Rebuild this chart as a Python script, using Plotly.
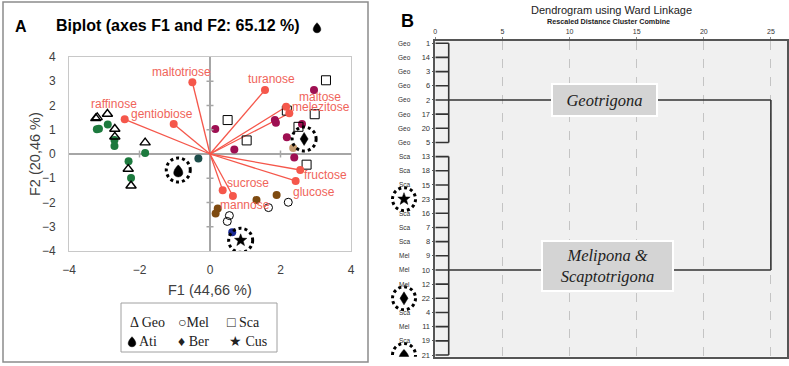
import math
import plotly.graph_objects as go

W, H = 789, 366

# ---------------- Panel A : biplot data ----------------
vec_names = ["maltotriose", "turanose", "raffinose", "gentiobiose", "maltose",
             "melezitose", "fructose", "glucose", "sucrose", "mannose"]
vec_f1 = [-0.50, 1.56, -2.42, -1.03, 2.16, 2.25, 2.56, 2.43, 0.36, 0.65]
vec_f2 = [2.96, 2.64, 1.43, 1.24, 1.95, 1.68, -0.66, -1.11, -1.50, -1.73]

geo_open_f1 = [-3.24, -3.20, -2.91, -2.70, -2.70, -1.84, -2.32, -2.24]
geo_open_f2 = [1.47, 1.51, 1.65, 1.03, 0.71, 0.47, -0.62, -1.31]
geo_f1 = [-3.21, -3.15, -2.90, -2.71, -2.71, -1.84, -2.31, -2.24]
geo_f2 = [1.02, 1.04, 1.22, 0.58, 0.33, 0.04, -0.30, -0.99]

sca_open_f1 = [3.29, 2.18, 2.97, 0.50, 1.04, 2.51, 2.74]
sca_open_f2 = [3.04, 1.79, 1.64, 1.40, 0.56, 1.12, -0.44]
sca_f1 = [0.15, 0.69, 1.84, 1.87, 2.95, 2.61, 2.18, 2.39]
sca_f2 = [1.03, 0.19, 1.40, 1.29, 2.64, 1.24, 0.69, -0.14]

mel_open_f1 = [2.22, 1.66, 0.55, 0.49]
mel_open_f2 = [-1.99, -2.21, -2.54, -2.78]
mel_f1 = [1.32, 1.89, 0.22, 0.16]
mel_f2 = [-1.90, -1.69, -2.25, -2.45]

ati_f1, ati_f2 = [-0.33], [-0.19]
ber_f1, ber_f2 = [2.36], [0.25]
cus_f1, cus_f2 = [0.63], [-3.23]

# highlighted (encircled) samples
ati_mark = (-0.90, -0.66)
ber_mark = (2.67, 0.62)
cus_mark = (0.87, -3.56)

x_ticks = [-4, -2, 0, 2, 4]
y_ticks = [-4, -3, -2, -1, 0, 1, 2, 3, 4]

# ---------------- Panel B : dendrogram data ----------------
leaf_ids = [1, 14, 3, 6, 2, 17, 20, 5, 13, 18, 15, 23, 16, 7, 8, 9, 10, 12, 22, 4, 11, 19, 21]
leaf_groups = ["Geo"] * 8 + ["Sca", "Sca", "Sca", "Cus", "Sca", "Sca", "Sca", "Mel", "Mel",
                             "Mel", "Ber", "Sca", "Mel", "Sca", "Ati"]
cluster_first = [0, 8]
cluster_last = [7, 22]
cluster_join = [4, 16]
cluster_height = [1.0, 1.0]
root_height = 25.0
dist_ticks = [0, 5, 10, 15, 20, 25]

# ---------------- styles ----------------
RED = "#f5574b"
RED_TXT = "#f0645a"
SANS = "Liberation Sans"
SERIF = "Liberation Serif"


def px(v):
    return v / W


def py(v):
    return 1 - v / H


def drop_path(h):
    pts = []
    for k in range(0, 37):
        t = math.radians(k * 10)
        pts.append((0.98 * h * math.sin(t) * math.sin(t / 2), h * math.cos(t) - 0.15 * h))
    return "M" + " L".join(f"{a:.2f},{b:.2f}" for a, b in pts) + " Z"


def star_path(R):
    pts = []
    for k in range(10):
        r = R if k % 2 == 0 else 0.42 * R
        a = math.radians(90 + 36 * k)
        pts.append((r * math.cos(a), r * math.sin(a)))
    return "M" + " L".join(f"{a:.2f},{b:.2f}" for a, b in pts) + " Z"


def diamond_path(hw, hh):
    return f"M0,{hh} L{hw},0 L0,{-hh} L{-hw},0 Z"


fig = go.Figure()

# vectors
lx, ly = [], []
for a, b in zip(vec_f1, vec_f2):
    lx += [0, a, None]
    ly += [0, b, None]
fig.add_trace(go.Scatter(x=lx, y=ly, mode="lines", line=dict(color=RED, width=1.3),
                         hoverinfo="skip", xaxis="x", yaxis="y"))

def pts(x, y, **m):
    fig.add_trace(go.Scatter(x=x, y=y, mode="markers", marker=m, xaxis="x", yaxis="y",
                             hoverinfo="skip"))

pts(geo_f1, geo_f2, color="#1d7a3e", size=8)
pts(geo_open_f1, geo_open_f2, symbol="triangle-up-open", size=9, color="black", line=dict(width=1.4))
pts(sca_f1, sca_f2, color="#9e0f52", size=8)
pts(sca_open_f1, sca_open_f2, symbol="square-open", size=9, color="black", line=dict(width=1))
pts(mel_f1, mel_f2, color="#7e4a10", size=8)
pts(mel_open_f1, mel_open_f2, symbol="circle-open", size=8, color="black", line=dict(width=1))
pts(ati_f1, ati_f2, color="#1d4e4b", size=8)
pts(ber_f1, ber_f2, color="#c59c70", size=8)
pts(cus_f1, cus_f2, color="#1b2a94", size=8)
pts(vec_f1, vec_f2, color=RED, size=8)

# dendrogram lines
dx, dy = [], []
for c in range(len(cluster_first)):
    h = cluster_height[c]
    for i in range(cluster_first[c], cluster_last[c] + 1):
        dx += [0, h, None]
        dy += [i, i, None]
    dx += [h, h, None]
    dy += [cluster_first[c], cluster_last[c], None]
    dx += [h, root_height, None]
    dy += [cluster_join[c], cluster_join[c], None]
dx += [root_height, root_height, None]
dy += [cluster_join[0], cluster_join[-1], None]
fig.add_trace(go.Scatter(x=dx, y=dy, mode="lines", line=dict(color="#333333", width=1.6),
                         hoverinfo="skip", xaxis="x2", yaxis="y2"))

shapes = []
annotations = []

# panel A frame
shapes.append(dict(type="rect", xref="paper", yref="paper", x0=px(3), x1=px(368), y0=py(362), y1=py(2),
                   line=dict(color="#8c8c8c", width=1.5)))
# legend box
shapes.append(dict(type="rect", xref="paper", yref="paper", x0=px(121), x1=px(277), y0=py(352), y1=py(303),
                   line=dict(color="#a0a0a0", width=1), fillcolor="white"))

# ticks on the zero axes
for t in y_ticks:
    if t not in (0, y_ticks[0], y_ticks[-1]):
        shapes.append(dict(type="line", xref="x", yref="y", xsizemode="pixel", xanchor=0,
                           x0=-3.5, x1=3.5, y0=t, y1=t, line=dict(color="#a6a6a6", width=1.5)))
for t in x_ticks:
    if t not in (0, x_ticks[0], x_ticks[-1]):
        shapes.append(dict(type="line", xref="x", yref="y", ysizemode="pixel", yanchor=0,
                           y0=-3.5, y1=3.5, x0=t, x1=t, line=dict(color="#a6a6a6", width=1.5)))

# encircled glyphs, panel A
def circle_at(xref, yref, xa, ya, r=12):
    shapes.append(dict(type="circle", xref=xref, yref=yref, xsizemode="pixel", ysizemode="pixel",
                       xanchor=xa, yanchor=ya, x0=-r, x1=r, y0=-r, y1=r,
                       line=dict(color="black", width=3, dash="dot")))

def glyph_at(xref, yref, xa, ya, path):
    shapes.append(dict(type="path", xref=xref, yref=yref, xsizemode="pixel", ysizemode="pixel",
                       xanchor=xa, yanchor=ya, path=path, fillcolor="black",
                       line=dict(color="black", width=0.5)))

circle_at("x", "y", ati_mark[0], ati_mark[1])
glyph_at("x", "y", ati_mark[0], ati_mark[1], drop_path(6))
circle_at("x", "y", ber_mark[0], ber_mark[1])
glyph_at("x", "y", ber_mark[0], ber_mark[1], diamond_path(4, 6.5))
circle_at("x", "y", cus_mark[0], cus_mark[1])
glyph_at("x", "y", cus_mark[0], cus_mark[1], star_path(6.5))

# title drop & legend drop
glyph_at("paper", "paper", px(317), py(27), drop_path(5))
glyph_at("paper", "paper", px(132), py(341), drop_path(5))

# panel B background
shapes.append(dict(type="rect", xref="x2 domain", yref="y2 domain", x0=0, x1=1, y0=0, y1=1,
                   fillcolor="#f0f0f0", line=dict(width=0), layer="below"))

# panel B row labels and glyphs
glyph_paths = {"Cus": star_path(6.5), "Ber": diamond_path(4, 6.5), "Ati": drop_path(6.5)}
for i, g in enumerate(leaf_groups):
    if g in glyph_paths:
        circle_at("paper", "y2", px(404), i, r=11.5)
        glyph_at("paper", "y2", px(404), i, glyph_paths[g])
    else:
        annotations.append(dict(x=px(405), y=i, xref="paper", yref="y2", text=g, showarrow=False,
                                xanchor="center", yanchor="middle",
                                font=dict(family=SANS, size=6.5, color="#333333")))

# vector labels
label_shift = [(-11, 10), (7, 11), (-11, 15), (-12, 10), (34, 10), (32, 6), (25, -5), (18, -11),
               (25, 7), (12, -9)]
for n, a, b, (sx, sy) in zip(vec_names, vec_f1, vec_f2, label_shift):
    annotations.append(dict(x=a, y=b, xref="x", yref="y", text=n, showarrow=False, xshift=sx, yshift=sy,
                            xanchor="center", yanchor="middle",
                            font=dict(family=SANS, size=12, color=RED_TXT)))

# texts
def ptext(x, y, text, size, color="black", family=SANS, xanchor="center", **kw):
    d = dict(x=px(x), y=py(y), xref="paper", yref="paper", text=text, showarrow=False,
             xanchor=xanchor, yanchor="middle", font=dict(family=family, size=size, color=color))
    d.update(kw)
    annotations.append(d)

ptext(21, 27, "<b>A</b>", 16)
ptext(54, 26, "<b>Biplot (axes F1 and F2: 65.12 %)</b>", 16, xanchor="left")
ptext(210, 290, "F1 (44,66 %)", 14.5, "#404040")
ptext(35, 154, "F2 (20,46 %)", 14.5, "#404040", textangle=-90)
ptext(407, 21, "<b>B</b>", 18)
ptext(611, 10, "Dendrogram using Ward Linkage", 11, "#222222")
ptext(608, 22, "<b>Rescaled Distance Cluster Combine</b>", 7.2, "#222222")

annotations += [
    dict(x=12.6, y=cluster_join[0], xref="x2", yref="y2", text="<i>Geotrigona</i>", showarrow=False,
         xanchor="center", yanchor="middle",
         bgcolor="#d4d4d4", bordercolor="white", borderwidth=2, borderpad=2, width=99, height=26,
         font=dict(family=SERIF, size=16.5, color="#222222")),
    dict(x=12.8, y=15.75, xref="x2", yref="y2", text="<i>Melipona &amp;<br>Scaptotrigona</i>",
         showarrow=False, xanchor="center", yanchor="middle",
         bgcolor="#d4d4d4", bordercolor="white", borderwidth=2, borderpad=2,
         width=125, height=44, font=dict(family=SERIF, size=16.5, color="#222222")),
]

# legend texts
for tx, x0, y0 in [("Δ Geo", 128, 322), ("○Mel", 176, 322), ("□ Sca", 225, 322),
                   ("Ati", 137, 341), ("♦ Ber", 176, 341), ("★ Cus", 227, 341)]:
    ptext(x0, y0, tx, 14, "#222222", family=SERIF, xanchor="left")

fig.update_layout(
    width=W, height=H, margin=dict(l=0, r=0, t=0, b=0, autoexpand=False),
    paper_bgcolor="white", plot_bgcolor="white", showlegend=False,
    xaxis=dict(domain=[px(69), px(351)], range=[-4, 4], tickvals=x_ticks, showgrid=False,
               showline=True, mirror=True, linecolor="#c8c8c8", linewidth=1,
               zeroline=True, zerolinecolor="#a6a6a6", zerolinewidth=2, ticks="",
               tickfont=dict(family=SANS, size=12, color="#404040"), ticklabelstandoff=8,
               anchor="y", fixedrange=True, automargin=False),
    yaxis=dict(domain=[py(251), py(57)], range=[-4, 4], tickvals=y_ticks, showgrid=False,
               showline=True, mirror=True, linecolor="#c8c8c8", linewidth=1,
               zeroline=True, zerolinecolor="#a6a6a6", zerolinewidth=2, ticks="",
               tickfont=dict(family=SANS, size=12, color="#404040"), ticklabelstandoff=10,
               anchor="x", fixedrange=True, automargin=False),
    xaxis2=dict(domain=[px(435.3), px(787)], range=[0, 26.2], tickvals=dist_ticks, side="top",
                showgrid=True, gridcolor="#c4c4c4", griddash="dash", gridwidth=1,
                showline=True, mirror=True, linecolor="#555555", linewidth=1.5, zeroline=False,
                ticks="outside", ticklen=2, tickcolor="#888888",
                tickfont=dict(family=SANS, size=7, color="#333333"), anchor="y2", fixedrange=True,
                automargin=False),
    yaxis2=dict(domain=[py(356.7), py(40.7)], range=[22.12, -0.18],
                tickvals=list(range(len(leaf_ids))), ticktext=[str(v) for v in leaf_ids],
                showgrid=False, showline=True, mirror=True, linecolor="#555555", linewidth=1.5,
                zeroline=False, ticks="outside", ticklen=2, tickcolor="#555555",
                tickfont=dict(family=SANS, size=7.5, color="#333333"), anchor="x2", fixedrange=True,
                automargin=False),
    shapes=shapes, annotations=annotations,
)

fig.write_html("out.html", config={"displayModeBar": False},
               post_script="document.body.style.margin='0px';")
